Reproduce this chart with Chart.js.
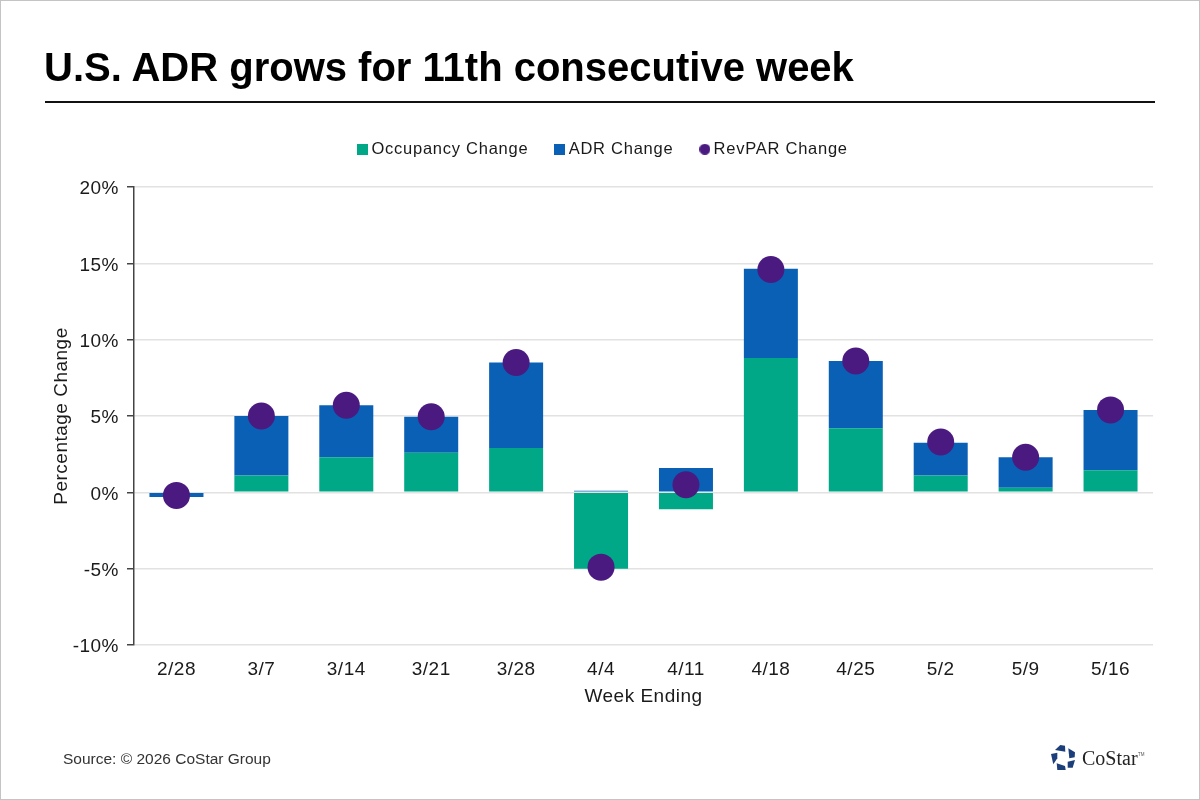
<!DOCTYPE html>
<html>
<head>
<meta charset="utf-8">
<title>U.S. ADR grows for 11th consecutive week</title>
<script src="https://cdn.jsdelivr.net/npm/chart.js@4"></script>
<style>
  html, body { margin: 0; padding: 0; background: #fff; }
  #page { position: relative; width: 1200px; height: 800px; overflow: hidden; font-family: "Liberation Sans", Arial, sans-serif; }
  #frame { position: absolute; left: 0; top: 0; width: 1198px; height: 798px; border: 1px solid #c4c4c4; pointer-events: none; }
  #title { position: absolute; left: 44px; top: 43px; font-size: 40px; font-weight: bold; color: #000; white-space: nowrap; line-height: 48px; }
  #rule { position: absolute; left: 45px; top: 101px; width: 1110px; height: 2px; background: #111; }
  #source { position: absolute; left: 63px; top: 750px; font-size: 15.5px; color: #333; line-height: 18px; }
  #logo { position: absolute; left: 1048px; top: 740px; }
  canvas { position: absolute; left: 0; top: 0; }
</style>
</head>
<body>
<div id="page">
  <canvas id="chart" width="1200" height="800"></canvas>
  <div id="title">U.S. ADR grows for 11th consecutive week</div>
  <div id="rule"></div>
  <div id="source">Source: © 2026 CoStar Group</div>
  <svg id="logo" width="100" height="36" viewBox="0 0 100 36">
    <g fill="#1c3f7c">
      <polygon points="7,10 12.3,5 17,5.7 17.3,11.7"/>
      <polygon points="20.3,8.3 27,12.3 26.7,17.3 21.3,18.3"/>
      <polygon points="19.7,21.7 27,20 24.7,27.7 19.7,27.7"/>
      <polygon points="8.7,23.3 17,26 17.7,30 9.3,30"/>
      <polygon points="3,14 9.3,12.7 9.3,18.3 5.3,24.3"/>
    </g>
    <text x="34" y="25" font-family="Liberation Serif" font-size="20" fill="#222">CoStar</text>
    <text x="90" y="16" font-family="Liberation Sans" font-size="4.5" fill="#555">TM</text>
  </svg>
  <div id="frame"></div>
</div>
<script>
const weeks = ['2/28', '3/7', '3/14', '3/21', '3/28', '4/4', '4/11', '4/18', '4/25', '5/2', '5/9', '5/16'];
const occupancyChange = [0, 1.1, 2.3, 2.6, 2.9, -5.0, -1.1, 8.8, 4.2, 1.1, 0.3, 1.45];
const adrChange = [-0.3, 3.9, 3.4, 2.35, 5.6, 0.1, 1.6, 5.85, 4.4, 2.15, 2.0, 3.95];
const revparChange = [-0.2, 5.0, 5.7, 4.95, 8.5, -4.9, 0.5, 14.6, 8.6, 3.3, 2.3, 5.4];

const occColor = '#00a887';
const adrColor = '#0a60b5';
const revColor = '#4a1a80';
const textColor = '#1a1a1a';

// legend markers as small canvases so square and dot come out the same size
function marker(color, round) {
  const c = document.createElement('canvas');
  c.width = 11;
  c.height = 11;
  const g = c.getContext('2d');
  g.fillStyle = color;
  if (round) {
    g.beginPath();
    g.arc(5.5, 5.5, 5.5, 0, Math.PI * 2);
    g.fill();
  } else {
    g.fillRect(0, 0, 11, 11);
  }
  return c;
}
const markers = [marker(occColor), marker(adrColor), marker(revColor, true)];

// wider tracking on all chart text, the legend gets its own value and a fixed box height
const tracking = {
  id: 'tracking',
  beforeUpdate(chart) {
    const legend = chart.legend;
    if (legend._tracked) return;
    legend._tracked = true;
    const fit = legend.fit, draw = legend.draw;
    legend.fit = function () {
      chart.ctx.letterSpacing = '0.75px';
      fit.call(this);
      chart.ctx.letterSpacing = '0px';
      this.height = 77;
    };
    legend.draw = function () {
      chart.ctx.save();
      chart.ctx.translate(3.5, 0);
      chart.ctx.letterSpacing = '0.75px';
      draw.call(this);
      chart.ctx.restore();
      chart.ctx.letterSpacing = '0.5px';
    };
  },
  beforeDraw(chart) { chart.ctx.letterSpacing = '0.5px'; }
};

// y tick labels sit a touch below their grid line in the original
function nudgeYLabels(scale) {
  const items = scale.getLabelItems;
  scale.getLabelItems = function (area) {
    const list = items.call(this, area);
    list.forEach(item => {
      if (!item._nudged) {
        item.options.translation[1] += 2;
        item._nudged = true;
      }
    });
    return list;
  };
}

new Chart(document.getElementById('chart').getContext('2d'), {
  data: {
    labels: weeks,
    datasets: [
      { type: 'bar', label: 'Occupancy Change', data: occupancyChange, backgroundColor: occColor, order: 2, stack: 'a' },
      { type: 'bar', label: 'ADR Change', data: adrChange, backgroundColor: adrColor, order: 2, stack: 'a' },
      { type: 'line', label: 'RevPAR Change', data: revparChange, showLine: false, backgroundColor: revColor, borderColor: revColor, pointRadius: 13.5, pointHoverRadius: 13.5, pointBorderWidth: 0, pointStyle: 'circle', order: 1 }
    ]
  },
  options: {
    responsive: false,
    animation: false,
    layout: { padding: { left: 50, right: 47, top: 110, bottom: 92 } },
    datasets: { bar: { barPercentage: 0.636, categoryPercentage: 1 } },
    plugins: {
      tooltip: { enabled: false },
      legend: {
        position: 'top',
        align: 'center',
        labels: {
          usePointStyle: true,
          boxWidth: 1,
          boxHeight: 11,
          padding: 31,
          color: textColor,
          font: { family: 'Liberation Sans', size: 16.5 },
          generateLabels(chart) {
            const items = Chart.defaults.plugins.legend.labels.generateLabels(chart);
            items.sort((a, b) => a.datasetIndex - b.datasetIndex);
            items.forEach(item => { item.pointStyle = markers[item.datasetIndex]; });
            return items;
          }
        }
      }
    },
    scales: {
      x: {
        stacked: true,
        afterFit(scale) { scale.height = 63; },
        title: { display: true, text: 'Week Ending', color: textColor, font: { family: 'Liberation Sans', size: 19 }, padding: { top: 0, bottom: 0 } },
        grid: { display: false },
        border: { display: false },
        ticks: { color: textColor, maxRotation: 0, padding: 5, font: { family: 'Liberation Sans', size: 19 } }
      },
      y: {
        stacked: true,
        min: -10,
        max: 20,
        afterFit(scale) { scale.width = 84; nudgeYLabels(scale); },
        title: { display: true, text: 'Percentage Change', color: textColor, font: { family: 'Liberation Sans', size: 19 }, padding: { top: 0, bottom: 0 } },
        grid: { color: '#e2e2e2', lineWidth: 1.5, tickColor: '#444', tickLength: 7 },
        border: { display: true, color: '#444', width: 1.5 },
        ticks: { stepSize: 5, color: textColor, padding: 8, font: { family: 'Liberation Sans', size: 19 }, callback: v => v + '%' }
      }
    }
  },
  plugins: [tracking]
});
</script>
</body>
</html>
